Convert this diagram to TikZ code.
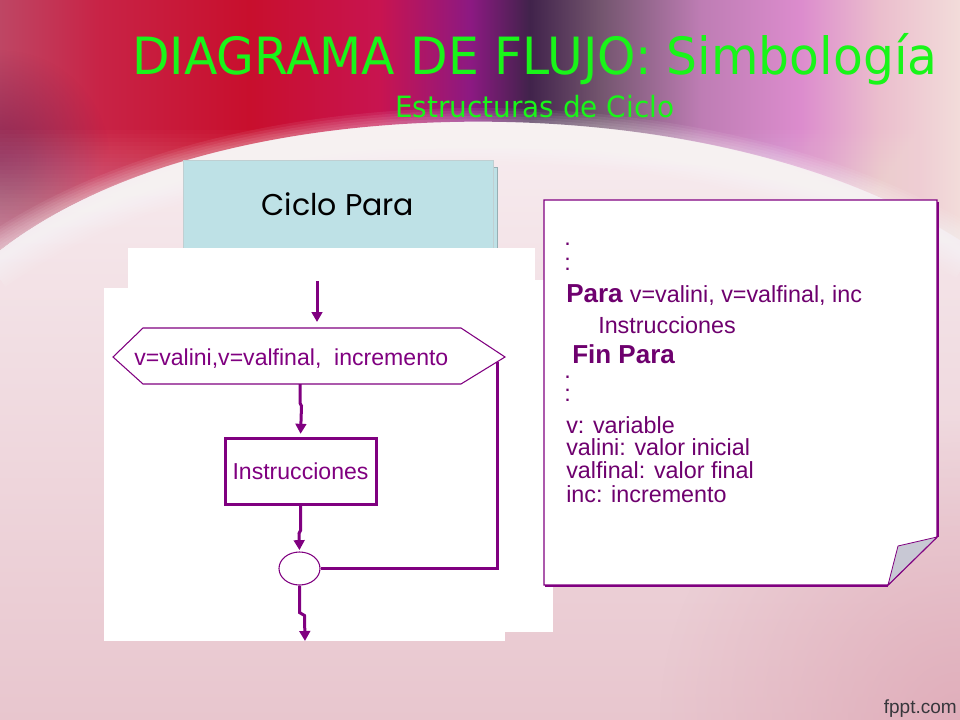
\documentclass[tikz,border=0pt]{standalone}
\usepackage{fontspec}
\setmainfont{Liberation Sans}
\newfontfamily\titlefont[FakeStretch=0.95]{DejaVu Sans}
\newfontfamily\comicfont{Poppins}
\usetikzlibrary{arrows.meta,shapes.geometric,fadings}
\definecolor{grn}{RGB}{25,245,25}
\definecolor{purp}{RGB}{128,0,128}
\definecolor{purptxt}{RGB}{110,0,110}
\definecolor{boxblue}{RGB}{190,225,230}
\definecolor{boxedge}{RGB}{150,175,180}
\definecolor{flapgray}{RGB}{200,200,212}
\definecolor{fpptgray}{RGB}{55,55,60}
\definecolor{bgtop}{RGB}{250,244,246}
\definecolor{bgbot}{RGB}{232,198,206}
\definecolor{pinkdeep}{RGB}{222,168,182}
\definecolor{darkmag}{RGB}{120,25,75}
\definecolor{bandA}{RGB}{190,70,100}
\definecolor{bandB}{RGB}{200,35,70}
\definecolor{bandC}{RGB}{200,15,45}
\definecolor{bandD}{RGB}{200,20,80}
\definecolor{bandE}{RGB}{140,25,130}
\definecolor{bandF}{RGB}{65,35,75}
\definecolor{bandG}{RGB}{115,85,110}
\definecolor{bandH}{RGB}{190,125,180}
\definecolor{bandI}{RGB}{220,140,205}
\definecolor{bandJ}{RGB}{235,190,205}
\definecolor{bandK}{RGB}{242,220,218}
\pgfdeclarehorizontalshading{topband}{100bp}{color(0bp)=(bandA); color(25bp)=(bandA); color(30.2bp)=(bandB); color(38bp)=(bandC); color(44.8bp)=(bandD); color(49.5bp)=(bandE); color(52.6bp)=(bandF); color(56.25bp)=(bandG); color(61.5bp)=(bandH); color(66.7bp)=(bandI); color(70.8bp)=(bandJ); color(75bp)=(bandK); color(100bp)=(bandK)}
\tikzfading[name=softblob, inner color=transparent!0, outer color=transparent!100]
\begin{document}
\begin{tikzpicture}[x=0.75pt,y=-0.75pt,
  flow/.style={draw=purp, line width=2.25pt, -{Triangle[width=8pt,length=7.5pt]}},
  loopline/.style={draw=purp, line width=2.25pt},
  thinline/.style={draw=purp, line width=0.8pt},
  bodytxt/.style={text=purptxt, font=\fontsize{17.5}{21}\selectfont, inner sep=0pt},
  boldtxt/.style={text=purptxt, font=\bfseries\fontsize{19.5}{23}\selectfont, inner sep=0pt},
  flowtxt/.style={text=purp, font=\fontsize{17.3}{21}\selectfont, inner sep=0pt},
  panel/.style={fill=white}
]
\useasboundingbox (0,0) rectangle (960,720);
% background
\shade[top color=bgtop, bottom color=bgbot] (0,0) rectangle (960,720);
\fill[pinkdeep, path fading=softblob, opacity=0.8] (960,720) circle (300);
\begin{scope}
  \clip (0,0) -- (960,0) -- (960,240) .. controls (820,150) and (620,118) .. (450,122) .. controls (280,126) and (110,165) .. (0,250) -- cycle;
  \shade[shading=topband] (0,0) rectangle (960,260);
  \fill[darkmag, path fading=softblob, opacity=0.7] (0,160) circle (110);
  \foreach \yy in {130,134,...,250}{\fill[white, opacity=0.02] (0,\yy) rectangle (960,260);}
\end{scope}
\foreach \w in {40,36,...,4}{
  \draw[white, line width=\w pt, opacity=0.07] (-10,265) .. controls (110,180) and (280,139) .. (450,135) .. controls (620,131) and (820,163) .. (970,255);
}
% titles
\node[anchor=base west, inner sep=0pt, text=grn, font=\titlefont\fontsize{38.5}{40}\selectfont] (title) at (132,75) {DIAGRAMA DE FLUJO: Simbología};
\node[anchor=base west, inner sep=0pt, text=grn, font=\titlefont\fontsize{22}{24}\selectfont] (subtitle) at (395,118) {Estructuras de Ciclo};
% Ciclo Para box
\filldraw[fill=boxblue, draw=boxedge, line width=0.6pt] (187,167) rectangle (497,258);
\filldraw[fill=boxblue, draw=boxedge!60, line width=0.6pt] (183,160) rectangle (493,258);
\node[anchor=base, inner sep=0pt, font=\comicfont\fontsize{22.5}{27}\selectfont] (ciclo) at (338,216) {Ciclo Para};
% white panels
\fill[panel] (128,248) rectangle (535,400);
\fill[panel] (300,280) rectangle (553,632);
\fill[panel] (104,288) rectangle (505,641);
% flowchart
\coordinate (hL) at (113,357);
\coordinate (hTL) at (143,328);
\coordinate (hTR) at (461,328);
\coordinate (hR) at (505,357);
\coordinate (hBR) at (461,384);
\coordinate (hBL) at (143,384);
\draw[thinline, line join=miter] (hL) -- (hTL) -- (hTR) -- (hR) -- (hBR) -- (hBL) -- cycle;
\node[flowtxt, anchor=base west] (hexlabel) at (134,365) {v=valini,v=valfinal,\ \ incremento};
\coordinate (startA) at (317,281);
\coordinate (hextop) at (317,328);
\coordinate (hexbot) at (300,384);
\coordinate (loopend) at (497,362);
\coordinate (endB) at (305,641);
\node[draw=purp, line width=2.25pt, minimum width=113.25pt, minimum height=49.5pt, inner sep=0pt, flowtxt] (instr) at (300.5,471) {Instrucciones};
\node[ellipse, draw=purp, line width=0.8pt, fill=white, minimum width=30.75pt, minimum height=24.75pt, inner sep=0pt] (join) at (299.5,568.5) {};
\draw[flow, shorten >=4.5pt] (startA) -- (hextop);
\draw[flow, shorten >=2pt] (hexbot) -- ++(0,19) -- ++(1.5,3) -- (instr.north);
\draw[flow, shorten >=1pt] (instr.south) -- ++(0,25) -- ++(-1.5,3) -- (join.north);
\draw[loopline] (join.east) -| (loopend);
\draw[flow] (join.south) -- ++(0,27) -- ++(5,3) -- (endB);
% note panel
\filldraw[fill=white, draw=purp, line width=1.1pt, line join=miter] (544,200) -- (937,200) -- (937,537) -- (888,585) -- (544,585) -- cycle;
\draw[purp, line width=1.8pt] (938,202) -- (938,537);
\draw[purp, line width=1.8pt] (545,586) -- (888,586);
\filldraw[fill=flapgray, draw=purp, line width=0.6pt, line join=round] (937,537) -- (898,546) -- (888,585) -- cycle;
\node[bodytxt, anchor=base west] (dotA1) at (564,246) {.};
\node[bodytxt, anchor=base west] (dotA2) at (564,271) {:};
\node[anchor=base west, inner sep=0pt, text=purptxt] (para) at (566,302) {\bfseries\fontsize{19.5}{23}\selectfont Para \normalfont\fontsize{17.5}{21}\selectfont v=valini, v=valfinal, inc};
\node[bodytxt, anchor=base west] (instr2) at (598,333) {Instrucciones};
\node[boldtxt, anchor=base west] (finpara) at (572,363) {Fin Para};
\node[bodytxt, anchor=base west] (dotB1) at (564,378) {.};
\node[bodytxt, anchor=base west] (dotB2) at (564,401) {:};
\node[bodytxt, anchor=base west] (def1) at (566,433) {v: variable};
\node[bodytxt, anchor=base west] (def2) at (566,455) {valini: valor inicial};
\node[bodytxt, anchor=base west] (def3) at (566,478) {valfinal: valor final};
\node[bodytxt, anchor=base west] (def4) at (566,502) {inc: incremento};
% footer
\node[anchor=base east, inner sep=0pt, text=fpptgray, font=\fontsize{14.25}{16}\selectfont] (fppt) at (957,713) {fppt.com};
\end{tikzpicture}
\end{document}
